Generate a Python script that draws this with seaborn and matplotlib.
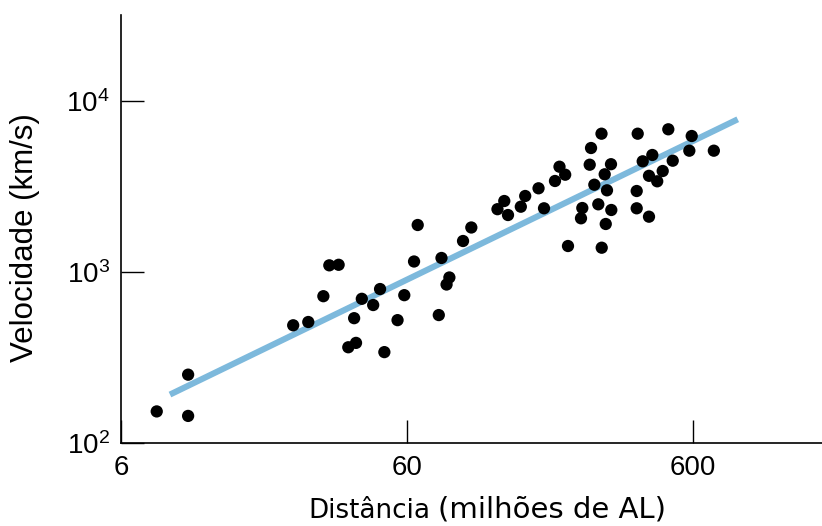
import matplotlib
matplotlib.use("Agg")
import matplotlib.pyplot as plt
import seaborn as sns
import pandas as pd

# Distância (milhões de AL) and Velocidade (km/s)
distance = [8.00, 10.3, 10.3, 24.0, 27.1, 30.6, 32.1, 34.6, 41.7, 39.2,
            45.7, 48.3, 58.7, 55.6, 37.4, 39.8, 50.0, 65.4, 63.5, 79.2,
            100.7, 94.2, 84.4, 82.5, 77.5, 124.3, 131.3, 135.3, 150.0, 155.4,
            173.0, 180.8, 197.5, 204.8, 214.4, 219.3, 246.1, 243.5, 261.2, 264.0,
            287.2, 271.1, 279.9, 294.7, 310.0, 300.2, 310.8, 297.2, 287.7, 384.4,
            381.3, 381.3, 421.0, 400.2, 432.4, 421.0, 449.8, 470.1, 509.6, 491.8,
            593.8, 582.5, 709.6]
velocity = [153, 251, 144, 488, 510, 722, 1094, 1102, 697, 537,
            641, 795, 732, 523, 363, 385, 340, 1883, 1152, 1208,
            1821, 1518, 929, 845, 560, 2330, 2601, 2154, 2409, 2783,
            3087, 2358, 3406, 4128, 3707, 1419, 2367, 2061, 4241, 5310,
            6439, 3239, 2488, 3727, 4270, 3004, 2305, 1909, 1387, 6439,
            2976, 2358, 2106, 4440, 4834, 3652, 3392, 3896, 4476, 6832,
            6242, 5122, 5122]

# fitted line endpoints
fit_distance = [8.9, 860]
fit_velocity = [192, 7816]

x_ticks = [6, 60, 600]
x_tick_labels = ["6", "60", "600"]
y_ticks = [100, 1000, 10000]
y_tick_labels = [r"$10^2$", r"$10^3$", r"$10^4$"]

sns.set_style("ticks")
plt.rcParams["font.family"] = ["Liberation Sans", "DejaVu Sans"]
plt.rcParams["mathtext.fontset"] = "custom"
plt.rcParams["mathtext.rm"] = "Liberation Sans"
plt.rcParams["mathtext.it"] = "Liberation Sans:italic"

W, H = 822, 526
fig = plt.figure(figsize=(W / 100, H / 100), dpi=100)
ax = fig.add_axes([121 / W, (H - 443) / H, 701 / W, 428 / H])

pts = pd.DataFrame({"d": distance, "v": velocity})
fit = pd.DataFrame({"d": fit_distance, "v": fit_velocity})

sns.lineplot(data=fit, x="d", y="v", ax=ax, color="#7db9dc", linewidth=4.4,
             zorder=2, solid_capstyle="butt")
sns.scatterplot(data=pts, x="d", y="v", ax=ax, color="black", s=78,
                edgecolor="none", linewidth=0, zorder=3)

ax.set_xscale("log")
ax.set_yscale("log")
ax.set_xlim(6, 1695)
ax.set_ylim(100, 31840)
ax.set_xticks(x_ticks)
ax.set_xticklabels(x_tick_labels)
ax.set_yticks(y_ticks)
ax.set_yticklabels(y_tick_labels)
ax.minorticks_off()
ax.tick_params(axis="both", direction="in", length=16.5, width=1.0,
               color="black", labelsize=20, labelcolor="black")
ax.tick_params(axis="x", pad=8.5)
ax.tick_params(axis="y", pad=8.0)

for side in ["top", "right"]:
    ax.spines[side].set_visible(False)
for side in ["left", "bottom"]:
    ax.spines[side].set_color("black")
    ax.spines[side].set_linewidth(1.2)

ax.set_xlabel("")
ax.set_ylabel("Velocidade (km/s)", fontsize=22.5, color="black")
ax.yaxis.set_label_coords(-(121 - 25) / 701, (443 - 237.5) / 428)
ax.yaxis.label.set_va("center")
ax.yaxis.label.set_ha("center")

fig.text(308 / W, 8.5 / H, "Distância", fontsize=18.8, family=["DejaVu Sans"],
         color="black", ha="left", va="baseline")
fig.text(438 / W, 8.5 / H, "(milhões de AL)", fontsize=21.0,
         family=["DejaVu Sans"], color="black", ha="left", va="baseline")

fig.savefig("out.png", dpi=100)
